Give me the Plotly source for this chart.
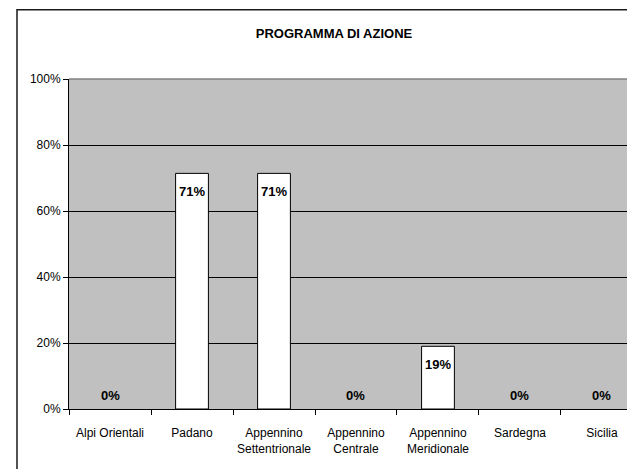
import plotly.graph_objects as go

categories = ["Alpi Orientali", "Padano", "Appennino<br>Settentrionale", "Appennino<br>Centrale",
              "Appennino<br>Meridionale", "Sardegna", "Sicilia"]
values = [0.0, 0.714, 0.714, 0.0, 0.19, 0.0, 0.0]
labels = ["0%", "71%", "71%", "0%", "19%", "0%", "0%"]
title = "PROGRAMMA DI AZIONE"

FONT = "Liberation Sans, Arial, sans-serif"

fig = go.Figure()
fig.add_trace(go.Bar(
    x=categories, y=values,
    marker=dict(color="white",
                line=dict(color="black", width=[1 if v > 0 else 0 for v in values])),
    hoverinfo="skip",
))

for c, v, t in zip(categories, values, labels):
    fig.add_annotation(
        x=c, y=v, text="<b>" + t + "</b>", showarrow=False,
        yshift=(-18 if v > 0 else 14), yanchor="middle",
        font=dict(family=FONT, size=13, color="black"),
    )

# plot-area top border
fig.add_shape(type="line", xref="paper", yref="paper", x0=0, x1=1.3, y0=1, y1=1,
              line=dict(color="#808080", width=1.5))
# outer chart border (left and top edges visible; right and bottom lie outside the view)
fig.add_shape(type="rect", xref="paper", yref="paper",
              x0=-0.0932, x1=1.3, y0=-0.4, y1=1.21,
              line=dict(color="#1a1a1a", width=1.5), fillcolor="rgba(0,0,0,0)", layer="above")

fig.update_layout(
    width=627, height=469,
    margin=dict(l=69, r=0, t=79, b=60, autoexpand=False),
    paper_bgcolor="white", plot_bgcolor="#C0C0C0",
    bargap=0.6, showlegend=False,
    font=dict(family=FONT, size=12, color="black"),
    title=dict(text="<b>" + title + "</b>", x=334 / 627, xanchor="center",
               y=1 - 33 / 469, yanchor="middle",
               font=dict(family=FONT, size=13, color="black")),
)
fig.update_xaxes(
    range=[-0.5, 6.305], showline=True, linecolor="black", linewidth=1,
    ticks="outside", tickson="boundaries", ticklen=5, tickcolor="black",
    showgrid=False, ticklabelstandoff=13, fixedrange=True, tickangle=0,
    automargin=False,
    tickfont=dict(family=FONT, size=12, color="black"),
)
fig.update_yaxes(
    range=[0, 1], dtick=0.2, tickformat=".0%", showline=True, linecolor="black",
    linewidth=1, ticks="outside", ticklen=5, tickcolor="black",
    showgrid=True, gridcolor="black", gridwidth=1, zeroline=False, fixedrange=True,
    automargin=False,
    tickfont=dict(family=FONT, size=12, color="black"),
)

fig.write_html("out.html", config={"displayModeBar": False},
               post_script="document.body.style.margin='0';document.body.style.overflow='hidden';")
